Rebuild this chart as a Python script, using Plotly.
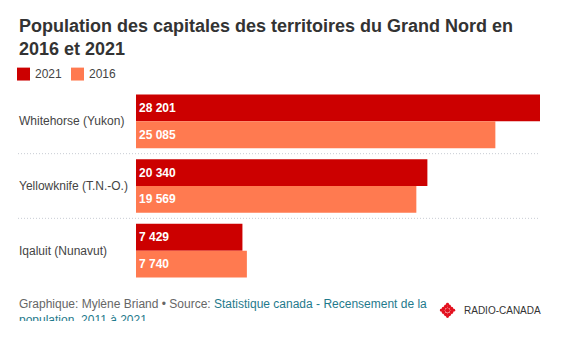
import plotly.graph_objects as go
import math

cities = ["Whitehorse (Yukon)", "Yellowknife (T.N.-O.)", "Iqaluit (Nunavut)"]
pop_2021 = [28201, 20340, 7429]
pop_2016 = [25085, 19569, 7740]
series_names = ["2021", "2016"]
series_colors = ["#cc0000", "#ff7a50"]

W, H = 561, 321
PL, PR = 136, 540
PT, PB = 88.5, 283.5
FONT = "Arial, Liberation Sans, sans-serif"

def px(x):
    return (x - PL) / (PR - PL)

def py(y):
    return (PB - y) / (PB - PT)

def fmt(v):
    return f"{v:,}".replace(",", " ")

fig = go.Figure()
for name, vals, col in zip(series_names, [pop_2021, pop_2016], series_colors):
    fig.add_trace(go.Bar(
        y=cities, x=vals, orientation="h", name=name,
        marker=dict(color=col, line=dict(width=0)),
        text=[fmt(v) for v in vals], textposition="inside",
        insidetextanchor="start",
        textfont=dict(color="white", size=12, family=FONT, weight="bold"),
        hoverinfo="skip", showlegend=False,
    ))

annotations = []
shapes = []

# Title
annotations.append(dict(xref="paper", yref="paper", x=px(17), y=py(13), xanchor="left", yanchor="top",
                        text="<b>Population des capitales des territoires du Grand Nord en<br>2016 et 2021</b>",
                        showarrow=False, align="left",
                        font=dict(size=18, color="#333333", family=FONT)))

# Legend (manual)
lx = [17, 71]
for i, (name, col) in enumerate(zip(series_names, series_colors)):
    shapes.append(dict(type="rect", xref="paper", yref="paper", x0=px(lx[i]), x1=px(lx[i] + 13),
                       y0=py(80), y1=py(67), fillcolor=col, line=dict(width=0)))
    annotations.append(dict(xref="paper", yref="paper", x=px(lx[i] + 16), y=py(73.5), xanchor="left",
                            yanchor="middle", text=name, showarrow=False,
                            font=dict(size=12, color="#444444", family=FONT)))

# Category labels
for c in cities:
    annotations.append(dict(xref="paper", yref="y", x=px(17), y=c, xanchor="left", yanchor="middle",
                            text=c, showarrow=False, font=dict(size=12, color="#444444", family=FONT)))

# Separators
for yy in [153.5, 218.5]:
    shapes.append(dict(type="line", xref="paper", yref="paper", x0=px(18), x1=px(540), y0=py(yy), y1=py(yy),
                       line=dict(color="#c8ccd4", width=1, dash="1px,2px")))

# Footer
annotations.append(dict(xref="paper", yref="paper", x=px(17), y=py(296), xanchor="left", yanchor="top",
                        align="left", showarrow=False,
                        text="Graphique: Mylène Briand • Source: <span style='color:#1f7a8c'>Statistique canada - Recensement de la</span><br><span style='color:#1f7a8c'>population, 2011 à 2021</span>",
                        font=dict(size=12, color="#666666", family=FONT)))

# Logo (Radio-Canada gem, simplified)
cx, cy = 447.5, 311
red = "#e3101e"
def dot(x0, y0, r):
    shapes.append(dict(type="circle", xref="paper", yref="paper", x0=px(x0 - r), x1=px(x0 + r),
                       y0=py(y0 + r), y1=py(y0 - r), fillcolor=red, line=dict(width=0)))
dot(cx, cy, 2.4)
for k in range(8):
    a = k * math.pi / 4 + math.pi / 8
    dot(cx + 4.3 * math.cos(a), cy + 4.3 * math.sin(a), 1.9)
for k in range(4):
    a = k * math.pi / 2
    dot(cx + 6.2 * math.cos(a), cy + 6.2 * math.sin(a), 1.5)
annotations.append(dict(xref="paper", yref="paper", x=px(462), y=py(311), xanchor="left", yanchor="middle",
                        text="RADIO-CANADA", showarrow=False,
                        font=dict(size=10, color="#333333", family=FONT)))

fig.update_layout(
    width=W, height=H,
    margin=dict(l=PL, r=W - PR, t=PT, b=H - PB, pad=0),
    paper_bgcolor="white", plot_bgcolor="white",
    barmode="group", bargap=11 / 65, bargroupgap=0,
    xaxis=dict(range=[0, max(pop_2021)], visible=False, fixedrange=True),
    yaxis=dict(autorange="reversed", showticklabels=False, showgrid=False, zeroline=False,
               showline=False, ticks="", fixedrange=True),
    annotations=annotations, shapes=shapes,
    font=dict(family=FONT),
)

fig.write_html("out.html", config={"displayModeBar": False})
